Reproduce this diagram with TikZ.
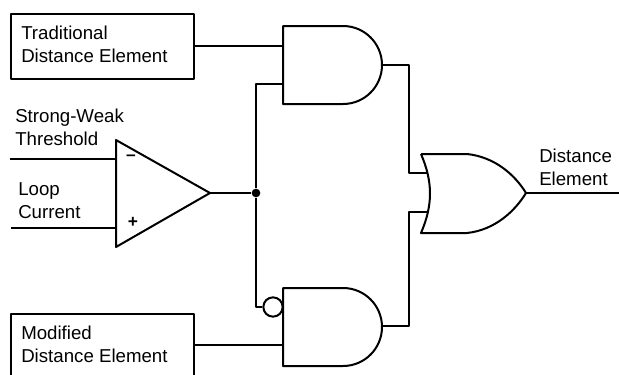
\documentclass[tikz,border=0pt]{standalone}
\usepackage{fontspec}
\setmainfont{Liberation Sans}
\tikzset{
	wire/.style={line width=1.5pt, line join=round},
	elembox/.style={draw, line width=1.5pt, minimum width=137.25pt, anchor=north west, inner sep=0pt},
	lbl/.style={align=left, anchor=west, inner sep=0pt, font=\fontsize{14}{17}\selectfont},
	sign/.style={inner sep=0pt, font=\fontsize{13}{14}\selectfont\bfseries}
}
\begin{document}
\begin{tikzpicture}[x=0.75pt,y=-0.75pt,line join=round]
	\useasboundingbox (0,0) rectangle (619,375);
	\clip (0,0) rectangle (619,375);
	% boxes
	\node[elembox, minimum height=48.75pt] (trad) at (10,13) {};
	\node[elembox, minimum height=48.75pt] (modif) at (10,313) {};
	\node[lbl] (tradtext) at (21,44) {Traditional\\Distance Element};
	\node[lbl] (modiftext) at (21,344) {Modified\\Distance Element};
	% comparator
	\draw[wire] (116,140)--(116,247)--(210,193)--cycle;
	\node[sign] (minus) at (131,158) {–};
	\node[sign] (plus) at (133,222) {+};
	\node[lbl] (strong) at (15,127.5) {Strong-Weak\\Threshold};
	\node[lbl] (loop) at (18,201) {Loop\\Current};
	\node[lbl] (dist) at (539,167) {Distance\\Element};
	% gates
	\draw[wire] (283,26)--(343,26) arc (-90:90:39)--(283,104)--cycle;
	\draw[wire] (283,288)--(343,288) arc (-90:90:39)--(283,366)--cycle;
	\draw[wire] (421,154)--(467,154) .. controls (495,157) and (515,175) .. (526,193) .. controls (515,211) and (495,230) .. (467,233)--(421,233) .. controls (433,205) and (433,182) .. (421,154);
	% named ends
	\coordinate (inA) at (10,159);
	\coordinate (inB) at (11,228);
	\coordinate (cmpA) at (116,159);
	\coordinate (cmpB) at (116,228);
	\coordinate (cmpout) at (210,193);
	\coordinate (and1a) at (283,46);
	\coordinate (and1b) at (283,84);
	\coordinate (and1out) at (382,65);
	\coordinate (and2b) at (283,345);
	\coordinate (and2out) at (382,326);
	\coordinate (or1) at (428,173);
	\coordinate (or2) at (428,212);
	\coordinate (orout) at (526,193);
	\coordinate (out) at (619,193);
	\node[circle, fill=black, inner sep=0pt, minimum size=6.5pt] (junc) at (256,193) {};
	\node[circle, draw, wire, inner sep=0pt, minimum size=14.5pt] (bubble) at (273,307) {};
	% connectors
	\draw[wire] (inA)--(cmpA);
	\draw[wire] (inB)--(cmpB);
	\draw[wire] (cmpout)--(junc);
	\draw[wire] (trad.east |- and1a)--(and1a);
	\draw[wire] (modif.east |- and2b)--(and2b);
	\draw[wire] (junc)|-(and1b);
	\draw[wire] (junc)|-(bubble);
	\draw[wire] (and1out)-|(409,173)--(or1);
	\draw[wire] (and2out)-|(409,212)--(or2);
	\draw[wire] (orout)--(out);
\end{tikzpicture}
\end{document}
